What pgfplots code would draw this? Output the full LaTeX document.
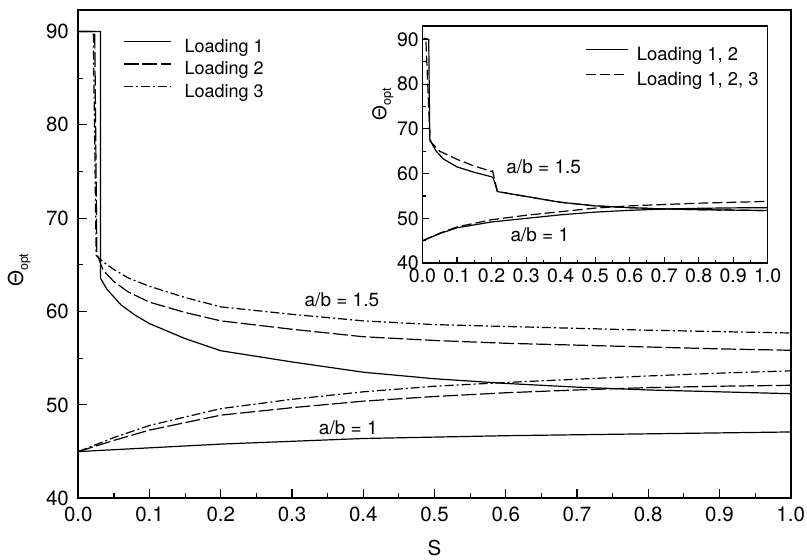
\documentclass[border=0pt]{standalone}
\usepackage{fontspec}
\setmainfont{TeX Gyre Heros}
\usepackage{pgfplots}
\pgfplotsset{compat=1.18}
\usetikzlibrary{calc}

\pgfplotsset{
  chart/.style={
    scale only axis,
    font=\fontsize{19bp}{22bp}\selectfont,
    xmin=0, xmax=1, ymin=40,
    tick align=inside,
    tick pos=left,
    xtick={0,0.1,0.2,0.3,0.4,0.5,0.6,0.7,0.8,0.9,1.0},
    xticklabels={0.0,0.1,0.2,0.3,0.4,0.5,0.6,0.7,0.8,0.9,1.0},
    ytick={40,50,60,70,80,90},
    yticklabels={40,50,60,70,80,90},
    minor x tick num=1,
    minor y tick num=1,
    major tick style={line width=1.1bp, black},
    minor tick style={line width=1.1bp, black},
    legend cell align=left,
  },
  l1/.style={black, line width=1.2bp},
  l2/.style={black, line width=1.2bp, dash pattern=on 15bp off 3.5bp},
  l3/.style={black, line width=1.2bp, dash pattern=on 9bp off 3bp on 2bp off 3bp},
  i2/.style={black, line width=1.2bp, dash pattern=on 10bp off 4bp},
}

\newcommand{\thetaopt}{Θ\raisebox{-0.45ex}{\fontsize{12.5bp}{12.5bp}\selectfont opt}}

\begin{document}
\begin{tikzpicture}
% ---------------- main chart ----------------
\begin{axis}[chart, name=main,
  width=712bp, height=488bp, ymax=92.3,
  major tick length=9bp, minor tick length=5bp,
  axis line style={line width=2bp},
  tick label style={font=\fontsize{20.5bp}{24bp}\selectfont},
  xlabel={S}, ylabel={\thetaopt},
  xlabel style={at={(axis description cs:0.5,-0.102)}, anchor=center,
    font=\fontsize{20.5bp}{24bp}\selectfont},
  ylabel style={at={(axis description cs:-0.083,0.467)}, anchor=center,
    font=\fontsize{20.5bp}{24bp}\selectfont},
  yticklabel style={xshift=-6bp},
  xticklabel style={yshift=-5bp},
  legend image code/.code={\draw[#1] (0bp,5bp) -- (47bp,5bp);},
  legend style={draw=none, fill=none, at={(rel axis cs:0,1)}, anchor=north west,
    xshift=45bp, yshift=-28bp, inner sep=0pt, outer sep=0pt, row sep=6bp,
    column sep=13bp, nodes={inner xsep=0bp, inner ysep=1bp},
    font=\fontsize{18bp}{21bp}\selectfont},
]
% a/b = 1.5
\addplot[l1] coordinates {(0,90) (0.031,90) (0.031,63.6) (0.04,62.4) (0.06,60.7) (0.08,59.6)
  (0.1,58.7) (0.15,57.1) (0.2,55.8) (0.3,54.6) (0.4,53.5) (0.5,52.8) (0.6,52.3)
  (0.7,51.9) (0.8,51.6) (0.9,51.4) (1.0,51.2)};
\addlegendentry{Loading 1}
\addplot[l2] coordinates {(0,90) (0.023,90) (0.026,66.2) (0.035,64.4) (0.05,63.2) (0.07,62.1)
  (0.1,61.0) (0.15,59.9) (0.2,59.0) (0.3,58.1) (0.4,57.3) (0.5,56.9) (0.6,56.6)
  (0.7,56.4) (0.8,56.2) (0.9,56.0) (1.0,55.85)};
\addlegendentry{Loading 2}
\addplot[l3] coordinates {(0,90) (0.021,90) (0.025,66.0) (0.035,65.3) (0.05,64.5) (0.07,63.6)
  (0.1,62.7) (0.15,61.5) (0.2,60.5) (0.3,59.7) (0.4,59.0) (0.5,58.6) (0.6,58.4)
  (0.7,58.2) (0.8,58.0) (0.9,57.85) (1.0,57.7)};
\addlegendentry{Loading 3}
% a/b = 1
\addplot[l1, forget plot] coordinates {(0,45) (0.1,45.4) (0.2,45.8) (0.3,46.1) (0.4,46.4)
  (0.5,46.55) (0.6,46.7) (0.7,46.8) (0.8,46.9) (0.9,47.0) (1.0,47.1)};
\addplot[l2, forget plot] coordinates {(0,45) (0.05,46.2) (0.1,47.3) (0.2,48.9) (0.3,49.7)
  (0.4,50.4) (0.5,50.9) (0.6,51.3) (0.7,51.6) (0.8,51.85) (0.9,52.0) (1.0,52.1)};
\addplot[l3, forget plot] coordinates {(0,45) (0.05,46.5) (0.1,47.8) (0.2,49.6) (0.3,50.6)
  (0.4,51.4) (0.5,52.0) (0.6,52.4) (0.7,52.75) (0.8,53.1) (0.9,53.4) (1.0,53.65)};
\node at (axis cs:0.37,61.25) {a/b = 1.5};
\node at (axis cs:0.379,47.5) {a/b = 1};
\end{axis}

% ---------------- inset ----------------
\begin{axis}[chart,
  at={($(main.south west)+(344bp,235bp)$)}, anchor=south west,
  width=345bp, height=237bp, ymax=93,
  major tick length=6bp, minor tick length=3.5bp,
  axis line style={line width=1.5bp},
  axis background/.style={fill=white},
  tick label style={font=\fontsize{19.5bp}{23bp}\selectfont},
  yticklabel style={xshift=-1.5bp, inner xsep=2bp},
  xticklabel style={yshift=-3bp, inner ysep=2bp},
  ylabel={\thetaopt},
  ylabel style={at={(axis description cs:-0.115,0.67)}, anchor=center},
  legend image code/.code={\draw[#1] (0bp,5bp) -- (42bp,5bp);},
  legend style={draw=none, fill=none, at={(rel axis cs:0,1)}, anchor=north west,
    xshift=163bp, yshift=-20bp, inner sep=0pt, outer sep=0pt, row sep=8bp,
    column sep=8bp, nodes={inner xsep=0bp, inner ysep=1bp},
    font=\fontsize{18.4bp}{21bp}\selectfont},
]
\addplot[l1] coordinates {(0.003,90.3) (0.018,90) (0.021,67.8) (0.03,66.3) (0.04,65.0)
  (0.06,63.3) (0.1,61.5) (0.15,60.3) (0.2,59.3) (0.205,59.0) (0.217,56.0) (0.3,54.9)
  (0.4,53.6) (0.5,52.8) (0.6,52.4) (0.7,52.1) (0.8,51.95) (0.9,51.85) (1.0,51.75)};
\addlegendentry{Loading 1, 2}
\addplot[i2] coordinates {(0.01,89.5) (0.022,67.2) (0.03,66.6) (0.05,65.0) (0.1,63.2)
  (0.15,61.7) (0.2,60.5) (0.203,60.6) (0.217,56.0) (0.3,54.9)
  (0.4,53.6) (0.5,52.8) (0.6,52.4) (0.7,52.1) (0.8,51.95) (0.9,51.85) (1.0,51.75)};
\addlegendentry{Loading 1, 2, 3}
\addplot[l1, forget plot] coordinates {(0,45) (0.05,46.6) (0.1,47.9) (0.2,49.2) (0.3,50.0)
  (0.4,50.8) (0.5,51.4) (0.6,51.8) (0.7,52.1) (0.8,52.25) (0.9,52.35) (1.0,52.4)};
\addplot[i2, forget plot] coordinates {(0,45) (0.05,46.7) (0.1,48.1) (0.2,49.7) (0.3,50.7)
  (0.4,51.5) (0.5,52.3) (0.6,52.8) (0.7,53.1) (0.8,53.4) (0.9,53.6) (1.0,53.8)};
\node at (axis cs:0.351,61.6) {a/b = 1.5};
\node at (axis cs:0.34,46.4) {a/b = 1};
\end{axis}

\pgfresetboundingbox
\path[use as bounding box] ($(main.south west)+(-78.3bp,-61.7bp)$) rectangle ($(main.north east)+(16.3bp,10bp)$);
\end{tikzpicture}
\end{document}
